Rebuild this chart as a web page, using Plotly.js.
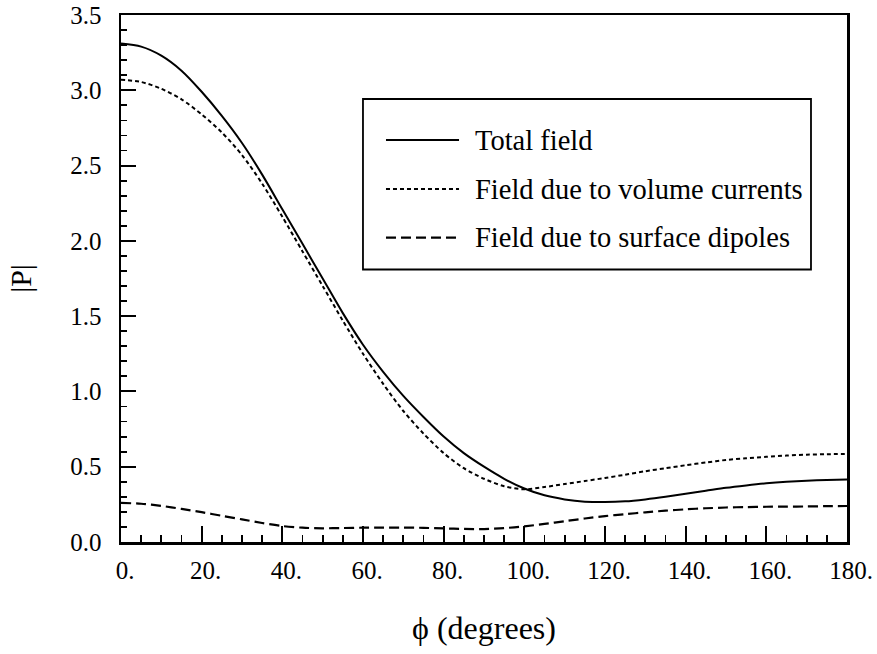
<!DOCTYPE html>
<html>
<head>
<meta charset="utf-8">
<script src="https://cdn.plot.ly/plotly-3.0.1.min.js"></script>
<style>html,body{margin:0;padding:0;background:#fff;}#chart{width:877px;height:654px;}</style>
</head>
<body>
<div id="chart"></div>
<script>
// Data
const phi = [0, 5, 10, 15, 20, 25, 30, 35, 40, 45, 50, 55, 60, 65, 70, 75, 80, 85, 90, 95, 100, 105, 110, 115, 120, 125, 130, 135, 140, 145, 150, 155, 160, 165, 170, 175, 180];
const totalField = [3.31, 3.29, 3.23, 3.13, 2.99, 2.83, 2.65, 2.44, 2.21, 1.98, 1.75, 1.52, 1.31, 1.13, 0.97, 0.83, 0.70, 0.59, 0.50, 0.42, 0.355, 0.31, 0.283, 0.268, 0.265, 0.27, 0.283, 0.30, 0.32, 0.34, 0.36, 0.376, 0.39, 0.40, 0.407, 0.412, 0.415];
const volumeField = [3.07, 3.055, 3.01, 2.94, 2.84, 2.72, 2.57, 2.38, 2.16, 1.93, 1.70, 1.47, 1.25, 1.05, 0.87, 0.72, 0.59, 0.49, 0.42, 0.37, 0.35, 0.365, 0.385, 0.405, 0.425, 0.447, 0.47, 0.49, 0.51, 0.528, 0.545, 0.556, 0.566, 0.574, 0.58, 0.583, 0.585];
const dipoleField = [0.26, 0.254, 0.24, 0.22, 0.198, 0.174, 0.15, 0.126, 0.106, 0.095, 0.091, 0.093, 0.095, 0.096, 0.096, 0.094, 0.09, 0.087, 0.086, 0.092, 0.104, 0.12, 0.138, 0.156, 0.172, 0.185, 0.197, 0.208, 0.217, 0.224, 0.229, 0.232, 0.234, 0.235, 0.236, 0.238, 0.239];
const seriesNames = ["Total field", "Field due to volume currents", "Field due to surface dipoles"];

const FONT = "Liberation Serif";
const dashes = ["solid", "4px,3px", "10px,5px"];
const widths = [2, 2, 2.2];
const ys = [totalField, volumeField, dipoleField];

const traces = ys.map((y, i) => ({
  x: phi, y: y, type: "scatter", mode: "lines", name: seriesNames[i],
  line: {color: "black", width: widths[i], dash: dashes[i], shape: "spline", smoothing: 0.8},
  showlegend: false, hoverinfo: "skip"
}));

// Custom legend (paper coordinates)
const legX0 = 0.3333, legX1 = 0.9504, legY0 = 0.5171, legY1 = 0.8406;
const sampX0 = 0.365, sampX1 = 0.4656, textX = 0.4848;
const rowY = [0.7628, 0.6698, 0.5774];
const shapes = [{type: "rect", xref: "paper", yref: "paper", x0: legX0, x1: legX1, y0: legY0, y1: legY1,
  line: {color: "black", width: 1.8}, fillcolor: "rgba(0,0,0,0)"}];
const annotations = [];
rowY.forEach((ry, i) => {
  shapes.push({type: "line", xref: "paper", yref: "paper", x0: sampX0, x1: sampX1, y0: ry, y1: ry,
    line: {color: "black", width: widths[i], dash: dashes[i]}});
  annotations.push({xref: "paper", yref: "paper", x: textX, y: ry, xanchor: "left", yanchor: "middle",
    text: seriesNames[i], showarrow: false, font: {family: FONT, size: 28.5, color: "black"}});
});

const layout = {
  width: 877, height: 654,
  margin: {l: 121, r: 30, t: 15, b: 112, pad: 0},
  paper_bgcolor: "white", plot_bgcolor: "white",
  font: {family: FONT, color: "black"},
  xaxis: {
    range: [0, 180], tickmode: "linear", tick0: 0, dtick: 20, ticksuffix: ".",
    ticks: "inside", ticklen: 16, tickwidth: 2, tickcolor: "black",
    minor: {dtick: 5, ticks: "inside", ticklen: 7, tickwidth: 1.8, tickcolor: "black", showgrid: false},
    showline: true, linewidth: 2.5, linecolor: "black", mirror: true,
    showgrid: false, zeroline: false,
    tickfont: {family: FONT, size: 25, color: "black"},
    ticklabelshift: 4, ticklabelstandoff: 4,
    title: {text: "\u03D5 (degrees)", font: {family: FONT, size: 32, color: "black"}, standoff: 34}
  },
  yaxis: {
    range: [0, 3.5], tickmode: "linear", tick0: 0, dtick: 0.5, tickformat: ".1f",
    ticks: "inside", ticklen: 15, tickwidth: 2, tickcolor: "black",
    minor: {dtick: 0.1, ticks: "inside", ticklen: 6, tickwidth: 1.8, tickcolor: "black", showgrid: false},
    showline: true, linewidth: 2.5, linecolor: "black", mirror: true,
    showgrid: false, zeroline: false,
    tickfont: {family: FONT, size: 25, color: "black"},
    ticklabelstandoff: 12,
    title: {text: "|P|", font: {family: FONT, size: 30, color: "black"}, standoff: 30}
  },
  shapes: shapes, annotations: annotations, showlegend: false
};

Plotly.newPlot("chart", traces, layout, {displayModeBar: false, staticPlot: true});
</script>
</body>
</html>
